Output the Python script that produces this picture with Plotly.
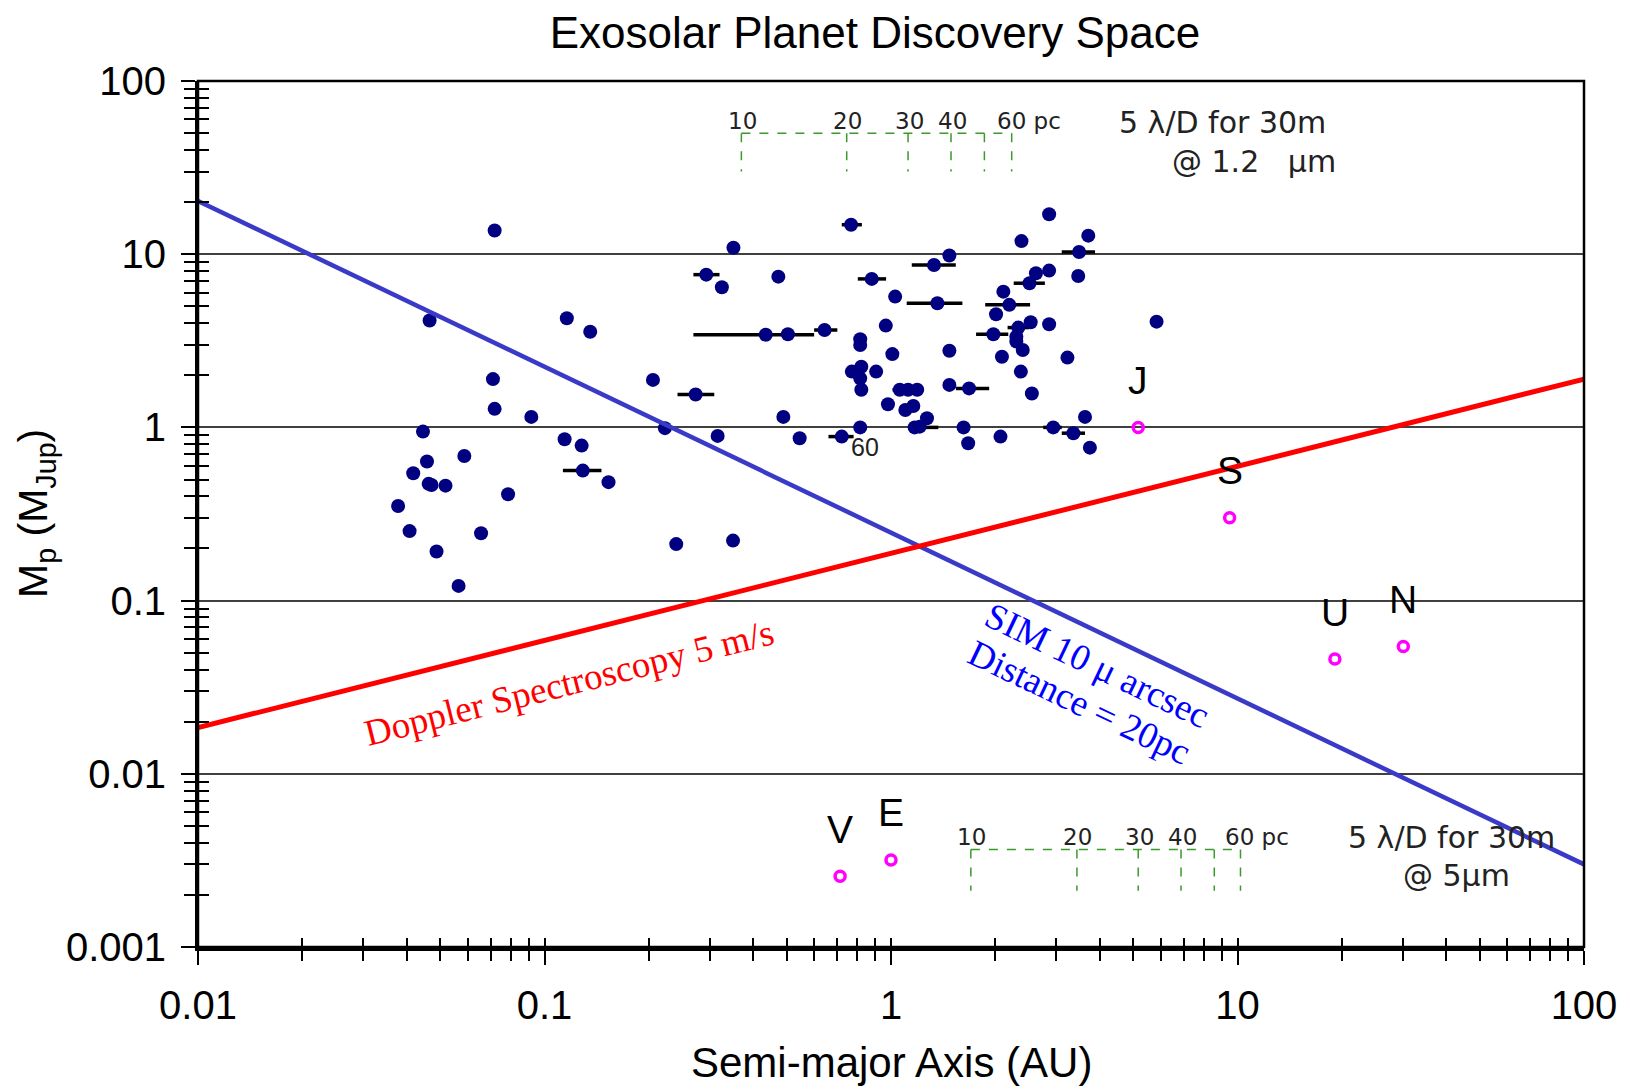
import math
import plotly.graph_objects as go

# ---------------- data ----------------
# known exoplanets (semi-major axis AU, mass MJup), no error bar
planet_a = [0.0718, 0.351, 0.325, 0.473, 0.0466, 0.116, 0.1355, 0.0710, 0.0718, 0.0916,
            0.2056, 0.489, 0.0446, 0.2226, 0.316, 0.1143, 0.128, 0.0458, 0.0587, 0.0418,
            0.0463, 0.0472, 0.0518, 0.153, 0.0785, 0.0378, 0.0408, 0.0656, 0.0488, 0.240,
            0.350, 0.0565, 0.504, 2.86, 3.71, 2.38, 1.474, 2.62, 2.86, 3.47,
            1.028, 2.11, 2.01, 0.966, 2.53, 2.86, 2.30, 2.30, 0.815, 0.815,
            5.84, 1.474, 1.009, 2.40, 2.09, 3.23, 0.771, 0.821, 0.906, 0.815,
            2.37, 0.821, 1.06, 1.19, 1.474, 0.98, 1.10, 1.16, 2.55, 1.27,
            1.21, 0.815, 1.62, 3.63, 3.75, 0.545, 1.67, 2.07]
planet_m = [13.7, 10.9, 6.45, 7.42, 4.14, 4.27, 3.57, 1.90, 1.28, 1.15,
            1.88, 1.15, 0.946, 0.99, 0.893, 0.855, 0.785, 0.635, 0.684, 0.544,
            0.472, 0.465, 0.461, 0.483, 0.411, 0.352, 0.252, 0.245, 0.192, 0.212,
            0.222, 0.1216, 3.45, 17.0, 12.8, 11.9, 9.82, 7.77, 8.04, 7.49,
            5.69, 6.08, 4.50, 3.87, 4.05, 3.94, 3.34, 3.13, 3.23, 2.99,
            4.08, 2.77, 2.65, 2.80, 2.56, 2.53, 2.10, 2.24, 2.10, 1.92,
            2.10, 1.65, 1.65, 1.65, 1.76, 1.36, 1.26, 1.33, 1.57, 1.13,
            1.01, 1.00, 1.0, 1.15, 0.764, 0.866, 0.81, 0.885]

# exoplanets with a horizontal error bar (range of a)
bar_a = [0.293, 0.435, 0.643, 0.273, 0.129, 0.767, 3.49, 1.331, 0.880, 2.51,
         1.361, 2.195, 1.974, 2.33, 1.12, 1.68, 1.17, 2.94, 3.36, 0.721]
bar_m = [7.62, 3.43, 3.65, 1.55, 0.563, 14.8, 10.3, 8.67, 7.20, 6.80,
         5.21, 5.10, 3.45, 3.77, 1.65, 1.68, 1.00, 1.0, 0.926, 0.885]
bar_lo = [0.269, 0.269, 0.60, 0.242, 0.113, 0.721, 3.11, 1.148, 0.802, 2.26,
          1.11, 1.87, 1.76, 2.17, 1.01, 1.54, 1.15, 2.75, 3.11, 0.66]
bar_hi = [0.320, 0.60, 0.70, 0.309, 0.146, 0.824, 3.88, 1.538, 0.968, 2.78,
          1.607, 2.52, 2.18, 2.50, 1.24, 1.92, 1.37, 3.11, 3.63, 0.78]

# solar system planets
solar_names = ["V", "E", "J", "S", "U", "N"]
solar_a = [0.713, 1.0, 5.17, 9.49, 19.1, 30.1]
solar_m = [0.00256, 0.00318, 1.0, 0.301, 0.046, 0.0543]

# detection limits
sim_a = [0.01, 100]
sim_m = [20.3, 0.0030]
rv_a = [0.01, 100]
rv_m = [0.0185, 1.9]

# 5 lambda/D separations for a 30 m telescope at various distances
dist_labels = ["10", "20", "30", "40", "", "60 pc"]
sep_12um_a = [0.37, 0.745, 1.12, 1.49, 1.86, 2.23]
sep_5um_a = [1.70, 3.44, 5.17, 6.87, 8.57, 10.2]
bracket_top_m = [50.0, 30.0]          # top bracket: bar level, tick end
bracket_top_label_m = 59.0
bracket_bot_m = [0.00366, 0.00211]    # bottom bracket: bar level, tick end
bracket_bot_label_m = 0.00433

x_tick_vals = [0.01, 0.1, 1, 10, 100]
x_tick_text = ["0.01", "0.1", "1", "10", "100"]
y_tick_vals = [0.001, 0.01, 0.1, 1, 10, 100]
y_tick_text = ["0.001", "0.01", "0.1", "1", "10", "100"]

# ---------------- figure ----------------
NAVY = "#000080"
FONT = "Liberation Sans, Arial, sans-serif"
SERIF = "Liberation Serif, Times New Roman, serif"
NARROW = "DejaVu Sans, Verdana, sans-serif"

# the page body adds an 8px margin around the figure
OFF = 8
W, H = 1630 - OFF, 1091 - OFF
L, R, T, B = 198 - OFF, 46, 81 - OFF, 144
PX0, PX1, PY0, PY1 = 198, 1584, 81, 947   # plot area in page pixels
PW, PH = PX1 - PX0, PY1 - PY0


def page_to_paper(px, py):
    return (px - PX0) / PW, (PY1 - py) / PH


x_minor = [d * k for d in [0.01, 0.1, 1, 10] for k in range(2, 10)]
y_minor = [d * k for d in [0.001, 0.01, 0.1, 1, 10] for k in range(2, 10)]

fig = go.Figure()


def bracket(xs, levels):
    bx, by = [xs[0], xs[-1], None], [levels[0], levels[0], None]
    for v in xs:
        bx += [v, v, None]
        by += [levels[0], levels[1], None]
    return bx, by


for xs, lev in [(sep_12um_a, bracket_top_m), (sep_5um_a, bracket_bot_m)]:
    bx, by = bracket(xs, lev)
    fig.add_trace(go.Scatter(x=bx, y=by, mode="lines",
                             line=dict(color="#3a9a2a", width=1.5, dash="dash"),
                             hoverinfo="skip", showlegend=False))

# exoplanets
fig.add_trace(go.Scatter(
    x=bar_a, y=bar_m, mode="markers",
    marker=dict(color=NAVY, size=14),
    error_x=dict(type="data", symmetric=False,
                 array=[h - a for a, h in zip(bar_a, bar_hi)],
                 arrayminus=[a - l for a, l in zip(bar_a, bar_lo)],
                 color="black", thickness=3.5, width=0),
    showlegend=False))
fig.add_trace(go.Scatter(x=planet_a, y=planet_m, mode="markers",
                         marker=dict(color=NAVY, size=14), showlegend=False))

# limit lines
fig.add_trace(go.Scatter(x=sim_a, y=sim_m, mode="lines",
                         line=dict(color="#3a3ac8", width=4.5), showlegend=False))
fig.add_trace(go.Scatter(x=rv_a, y=rv_m, mode="lines",
                         line=dict(color="#ff0000", width=5), showlegend=False))

# solar system planets (on the overlay axes so those axes get drawn)
fig.add_trace(go.Scatter(x=solar_a, y=solar_m, mode="markers",
                         marker=dict(symbol="circle-open", color="#ff00ff", size=10,
                                     line=dict(width=3.5, color="#ff00ff")),
                         xaxis="x2", yaxis="y2", showlegend=False))

ann = []
for n, a, m in zip(solar_names, solar_a, solar_m):
    ann.append(dict(x=math.log10(a), y=math.log10(m), xref="x", yref="y", text=n,
                    showarrow=False, yshift=47, font=dict(family=FONT, size=39, color="black")))

for xs, ly in [(sep_12um_a, bracket_top_label_m), (sep_5um_a, bracket_bot_label_m)]:
    for lab, a in zip(dist_labels, xs):
        if not lab:
            continue
        pc = lab.endswith("pc")
        ann.append(dict(x=math.log10(a), y=math.log10(ly), xref="x", yref="y", text=lab,
                        showarrow=False, xanchor="left" if pc else "center",
                        xshift=-17 if pc else 1,
                        font=dict(family=NARROW, size=23, color="#222")))

desc = [("5 λ/D for 30m", 1222, 123), ("@ 1.2\u00a0\u00a0\u00a0μm", 1254, 161),
        ("5 λ/D for 30m", 1451, 837), ("@ 5μm", 1456, 875)]
for t, px, py in desc:
    x, y = page_to_paper(px, py)
    ann.append(dict(x=x, y=y, xref="paper", yref="paper", text=t, showarrow=False,
                    xanchor="center", yanchor="middle",
                    font=dict(family=NARROW, size=30, color="#222")))

# line labels
ann.append(dict(x=math.log10(0.118), y=math.log10(0.0335), xref="x", yref="y",
                text="Doppler Spectroscopy 5 m/s", textangle=-14.1, showarrow=False,
                font=dict(family=SERIF, size=37, color="#ff0000")))
ann.append(dict(x=math.log10(3.95), y=math.log10(0.0424), xref="x", yref="y",
                text="SIM 10 μ arcsec", textangle=25.5, showarrow=False,
                font=dict(family=SERIF, size=37, color="#0000ff")))
ann.append(dict(x=math.log10(3.51), y=math.log10(0.0257), xref="x", yref="y",
                text="Distance = 20pc", textangle=25.5, showarrow=False,
                font=dict(family=SERIF, size=37, color="#0000ff")))
ann.append(dict(x=math.log10(0.842), y=math.log10(0.774), xref="x", yref="y",
                text="60", showarrow=False, font=dict(family=FONT, size=25, color="#222")))

# axis titles
x, y = page_to_paper(891, 1062)
ann.append(dict(x=x, y=y, xref="paper", yref="paper", text="Semi-major Axis (AU)",
                showarrow=False, xanchor="center", yanchor="middle",
                font=dict(family=FONT, size=42, color="black")))
x, y = page_to_paper(36, 514)
ann.append(dict(x=x, y=y, xref="paper", yref="paper",
                text="M<sub>p</sub> (M<sub>Jup</sub>)", textangle=-90,
                showarrow=False, xanchor="center", yanchor="middle",
                font=dict(family=FONT, size=41, color="black")))

axis_common = dict(showgrid=False, zeroline=False)
fig.update_layout(
    width=W, height=H,
    margin=dict(l=L, r=R, t=T, b=B, autoexpand=False),
    paper_bgcolor="white", plot_bgcolor="white",
    title=dict(text="Exosolar Planet Discovery Space", x=(875 - OFF) / W, xanchor="center",
               y=1 - (33 - OFF) / H, yanchor="middle",
               font=dict(family=FONT, size=44, color="black")),
    xaxis=dict(type="log", range=[-2, 2], showline=True, linecolor="black", linewidth=4,
               ticks="outside", tickvals=x_tick_vals, ticktext=x_tick_text, ticklen=14,
               tickwidth=2, tickcolor="black", ticklabelstandoff=6,
               tickfont=dict(family=FONT, size=40, color="black"),
               minor=dict(tickvals=x_minor, ticks="outside", ticklen=10, tickwidth=2,
                          tickcolor="black"),
               **axis_common),
    yaxis=dict(type="log", range=[-3, 2], showline=True, linecolor="black", linewidth=3,
               ticks="outside", tickvals=y_tick_vals, ticktext=y_tick_text, ticklen=14,
               tickwidth=2, tickcolor="black", ticklabelstandoff=7,
               tickfont=dict(family=FONT, size=40, color="black"),
               minor=dict(tickvals=y_minor, ticks="outside", ticklen=11, tickwidth=2,
                          tickcolor="black"),
               showgrid=True, gridcolor="#404040", gridwidth=1.5, zeroline=False),
    xaxis2=dict(type="log", range=[-2, 2], overlaying="x", anchor="y2", side="bottom",
                ticks="inside", tickvals=x_tick_vals + x_minor, ticklen=9, tickwidth=2,
                tickcolor="black", showticklabels=False, showline=False, **axis_common),
    yaxis2=dict(type="log", range=[-3, 2], overlaying="y", anchor="x2", side="left",
                ticks="inside", tickvals=y_minor, ticklen=11, tickwidth=2,
                tickcolor="black", showticklabels=False, showline=False, **axis_common),
    annotations=ann,
    shapes=[dict(type="rect", xref="paper", yref="paper", x0=0, y0=0, x1=1, y1=1,
                 line=dict(color="black", width=2.5), layer="above")],
)

fig.write_html("out.html")
